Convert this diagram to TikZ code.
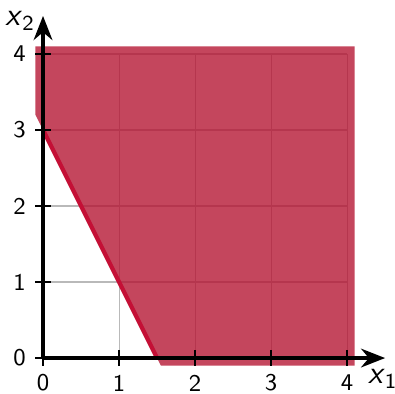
\documentclass[tikz,border=0pt]{standalone}
\usetikzlibrary{arrows.meta}
\definecolor{feasred}{RGB}{180,18,48}
\definecolor{bndred}{RGB}{196,16,54}
\tikzset{every picture/.style={line width=0.75pt}}
\tikzset{axis line/.style={line width=1.3pt,-{Stealth[length=9pt,width=7pt]}},
	tick line/.style={line width=0.5pt},
	tick label/.style={inner sep=0.75pt,font=\sffamily\small}}

\begin{document}
\begin{tikzpicture}[x=1cm,y=1cm]
	\useasboundingbox (-0.566,-0.46) rectangle (4.63,4.71);
	
	%Grid
	\draw [gray!55, line width=0.4pt] (0,0) grid (4,4) ;
	%Feasible region
	\fill [feasred, opacity=0.78] (-0.1,3.2) -- (1.55,-0.1) -- (4.1,-0.1) -- (4.1,4.1) -- (-0.1,4.1) -- cycle ;
	%Boundary line
	\draw [bndred, line width=1.6pt] (0,3) -- (1.5,0) ;
	%Ticks
	\foreach \i in {0,...,4} {
		\draw [tick line] (\i,-0.1) -- (\i,0.1) ;
		\draw [tick line] (-0.1,\i) -- (0.1,\i) ;
		\draw (\i,-0.33) node [tick label] {\i} ;
		\draw (-0.31,\i) node [tick label] {\i} ;
	}
	%Axes
	\draw [axis line] (0,0) -- (4.5,0) ;
	\draw [axis line] (0,0) -- (0,4.5) ;
	
	% Text Node
	\draw (4.47,-0.27) node [tick label, font=\sffamily\large] {\textit{x}\textsubscript{1}} ;
	% Text Node
	\draw (-0.3,4.44) node [tick label, font=\sffamily\large] {\textit{x}\textsubscript{2}} ;
	
\end{tikzpicture}
\end{document}
